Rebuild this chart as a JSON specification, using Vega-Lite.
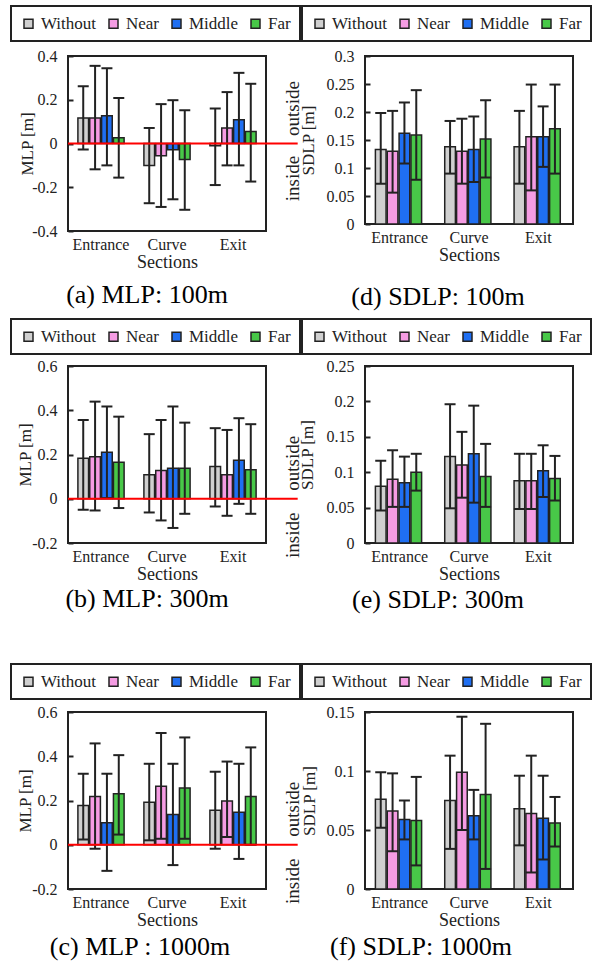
{
  "$schema": "https://vega.github.io/schema/vega-lite/v6.json",
  "background": "white",
  "padding": {"left": 9, "top": 4, "right": 3, "bottom": 3},
  "datasets": {
    "a": [
      {"section": "Entrance", "cond": "Without", "mean": 0.117, "lo": -0.027, "hi": 0.262},
      {"section": "Entrance", "cond": "Near", "mean": 0.117, "lo": -0.118, "hi": 0.355},
      {"section": "Entrance", "cond": "Middle", "mean": 0.127, "lo": -0.1, "hi": 0.344},
      {"section": "Entrance", "cond": "Far", "mean": 0.026, "lo": -0.156, "hi": 0.208},
      {"section": "Curve", "cond": "Without", "mean": -0.1, "lo": -0.273, "hi": 0.071},
      {"section": "Curve", "cond": "Near", "mean": -0.056, "lo": -0.29, "hi": 0.18},
      {"section": "Curve", "cond": "Middle", "mean": -0.029, "lo": -0.255, "hi": 0.198},
      {"section": "Curve", "cond": "Far", "mean": -0.073, "lo": -0.303, "hi": 0.152},
      {"section": "Exit", "cond": "Without", "mean": -0.01, "lo": -0.19, "hi": 0.16},
      {"section": "Exit", "cond": "Near", "mean": 0.071, "lo": -0.1, "hi": 0.235},
      {"section": "Exit", "cond": "Middle", "mean": 0.109, "lo": -0.1, "hi": 0.323},
      {"section": "Exit", "cond": "Far", "mean": 0.055, "lo": -0.174, "hi": 0.273}
    ],
    "b": [
      {"section": "Entrance", "cond": "Without", "mean": 0.183, "lo": -0.05, "hi": 0.356},
      {"section": "Entrance", "cond": "Near", "mean": 0.19, "lo": -0.053, "hi": 0.439},
      {"section": "Entrance", "cond": "Middle", "mean": 0.21, "lo": 0.003, "hi": 0.417},
      {"section": "Entrance", "cond": "Far", "mean": 0.165, "lo": -0.042, "hi": 0.371},
      {"section": "Curve", "cond": "Without", "mean": 0.108, "lo": -0.062, "hi": 0.292},
      {"section": "Curve", "cond": "Near", "mean": 0.128, "lo": -0.098, "hi": 0.356},
      {"section": "Curve", "cond": "Middle", "mean": 0.138, "lo": -0.132, "hi": 0.417},
      {"section": "Curve", "cond": "Far", "mean": 0.138, "lo": -0.068, "hi": 0.344},
      {"section": "Exit", "cond": "Without", "mean": 0.146, "lo": -0.035, "hi": 0.319},
      {"section": "Exit", "cond": "Near", "mean": 0.108, "lo": -0.077, "hi": 0.311},
      {"section": "Exit", "cond": "Middle", "mean": 0.174, "lo": -0.023, "hi": 0.364},
      {"section": "Exit", "cond": "Far", "mean": 0.131, "lo": -0.068, "hi": 0.337}
    ],
    "c": [
      {"section": "Entrance", "cond": "Without", "mean": 0.177, "lo": 0.024, "hi": 0.321},
      {"section": "Entrance", "cond": "Near", "mean": 0.218, "lo": -0.018, "hi": 0.458},
      {"section": "Entrance", "cond": "Middle", "mean": 0.1, "lo": -0.118, "hi": 0.321},
      {"section": "Entrance", "cond": "Far", "mean": 0.23, "lo": 0.046, "hi": 0.405},
      {"section": "Curve", "cond": "Without", "mean": 0.192, "lo": 0.02, "hi": 0.366},
      {"section": "Curve", "cond": "Near", "mean": 0.264, "lo": 0.027, "hi": 0.505},
      {"section": "Curve", "cond": "Middle", "mean": 0.137, "lo": -0.092, "hi": 0.366},
      {"section": "Curve", "cond": "Far", "mean": 0.256, "lo": 0.027, "hi": 0.485},
      {"section": "Exit", "cond": "Without", "mean": 0.156, "lo": -0.018, "hi": 0.33},
      {"section": "Exit", "cond": "Near", "mean": 0.198, "lo": 0.035, "hi": 0.376},
      {"section": "Exit", "cond": "Middle", "mean": 0.147, "lo": -0.064, "hi": 0.366},
      {"section": "Exit", "cond": "Far", "mean": 0.218, "lo": 0.0, "hi": 0.44}
    ],
    "d": [
      {"section": "Entrance", "cond": "Without", "mean": 0.133, "lo": 0.072, "hi": 0.198},
      {"section": "Entrance", "cond": "Near", "mean": 0.13, "lo": 0.056, "hi": 0.202},
      {"section": "Entrance", "cond": "Middle", "mean": 0.162, "lo": 0.108, "hi": 0.217},
      {"section": "Entrance", "cond": "Far", "mean": 0.159, "lo": 0.079, "hi": 0.239},
      {"section": "Curve", "cond": "Without", "mean": 0.138, "lo": 0.09, "hi": 0.184},
      {"section": "Curve", "cond": "Near", "mean": 0.13, "lo": 0.072, "hi": 0.188},
      {"section": "Curve", "cond": "Middle", "mean": 0.133, "lo": 0.075, "hi": 0.192},
      {"section": "Curve", "cond": "Far", "mean": 0.152, "lo": 0.083, "hi": 0.221},
      {"section": "Exit", "cond": "Without", "mean": 0.138, "lo": 0.072, "hi": 0.202},
      {"section": "Exit", "cond": "Near", "mean": 0.156, "lo": 0.06, "hi": 0.249},
      {"section": "Exit", "cond": "Middle", "mean": 0.156, "lo": 0.102, "hi": 0.21},
      {"section": "Exit", "cond": "Far", "mean": 0.17, "lo": 0.09, "hi": 0.249}
    ],
    "e": [
      {"section": "Entrance", "cond": "Without", "mean": 0.08, "lo": 0.046, "hi": 0.116},
      {"section": "Entrance", "cond": "Near", "mean": 0.09, "lo": 0.051, "hi": 0.131},
      {"section": "Entrance", "cond": "Middle", "mean": 0.085, "lo": 0.051, "hi": 0.122},
      {"section": "Entrance", "cond": "Far", "mean": 0.1, "lo": 0.074, "hi": 0.126},
      {"section": "Curve", "cond": "Without", "mean": 0.122, "lo": 0.049, "hi": 0.196},
      {"section": "Curve", "cond": "Near", "mean": 0.11, "lo": 0.064, "hi": 0.157},
      {"section": "Curve", "cond": "Middle", "mean": 0.126, "lo": 0.057, "hi": 0.194},
      {"section": "Curve", "cond": "Far", "mean": 0.094, "lo": 0.051, "hi": 0.14},
      {"section": "Exit", "cond": "Without", "mean": 0.088, "lo": 0.048, "hi": 0.126},
      {"section": "Exit", "cond": "Near", "mean": 0.088, "lo": 0.048, "hi": 0.126},
      {"section": "Exit", "cond": "Middle", "mean": 0.102, "lo": 0.065, "hi": 0.138},
      {"section": "Exit", "cond": "Far", "mean": 0.091, "lo": 0.06, "hi": 0.123}
    ],
    "f": [
      {"section": "Entrance", "cond": "Without", "mean": 0.076, "lo": 0.052, "hi": 0.099},
      {"section": "Entrance", "cond": "Near", "mean": 0.066, "lo": 0.032, "hi": 0.098},
      {"section": "Entrance", "cond": "Middle", "mean": 0.059, "lo": 0.042, "hi": 0.075},
      {"section": "Entrance", "cond": "Far", "mean": 0.058, "lo": 0.02, "hi": 0.095},
      {"section": "Curve", "cond": "Without", "mean": 0.075, "lo": 0.034, "hi": 0.113},
      {"section": "Curve", "cond": "Near", "mean": 0.099, "lo": 0.05, "hi": 0.146},
      {"section": "Curve", "cond": "Middle", "mean": 0.062, "lo": 0.042, "hi": 0.084},
      {"section": "Curve", "cond": "Far", "mean": 0.08, "lo": 0.017, "hi": 0.14},
      {"section": "Exit", "cond": "Without", "mean": 0.068, "lo": 0.037, "hi": 0.096},
      {"section": "Exit", "cond": "Near", "mean": 0.064, "lo": 0.014, "hi": 0.113},
      {"section": "Exit", "cond": "Middle", "mean": 0.06, "lo": 0.025, "hi": 0.096},
      {"section": "Exit", "cond": "Far", "mean": 0.056, "lo": 0.036, "hi": 0.078}
    ],
    "gap": [{"g": 0}],
    "one": [{"k": 0}]
  },
  "columns": 2,
  "spacing": {"row": 0, "column": 99},
  "align": "each",
  "bounds": "flush",
  "resolve": {"scale": {"fill": "independent"}, "legend": {"fill": "independent"}},
  "concat": [
    {
      "data": {"name": "a"}, "width": 198, "height": 175,
      "title": {"text": "(a) MLP: 100m", "dx": -20, "offset": 11},
      "layer": [
        {
          "encoding": {
            "x": {"field": "section", "type": "nominal", "sort": ["Entrance", "Curve", "Exit"], "scale": {"paddingInner": 0.3, "paddingOuter": 0.15}, "axis": {"title": "Sections"}},
            "xOffset": {"field": "cond", "type": "nominal", "sort": ["Without", "Near", "Middle", "Far"], "scale": {"paddingInner": 0.1, "paddingOuter": 0}}
          },
          "layer": [
            {"mark": "bar", "encoding": {
              "y": {"field": "mean", "type": "quantitative", "scale": {"domain": [-0.4, 0.4], "nice": false}, "axis": {"title": "MLP [m]", "values": [-0.4, -0.2, 0, 0.2, 0.4], "labelExpr": "'' + datum.value", "titlePadding": -5}},
              "fill": {"field": "cond", "type": "nominal", "scale": {"domain": ["Without", "Near", "Middle", "Far"], "range": ["#d0d0d0", "#f59ce3", "#1f6ff2", "#48c848"]}, "legend": {"title": null, "legendX": -57, "legendY": -50}}
            }},
            {"mark": {"type": "rule", "strokeWidth": 2, "color": "#222"}, "encoding": {"y": {"field": "lo", "type": "quantitative", "axis": {"title": "MLP [m]", "values": [-0.4, -0.2, 0, 0.2, 0.4], "labelExpr": "'' + datum.value", "titlePadding": -5}}, "y2": {"field": "hi"}}},
            {"mark": {"type": "tick", "size": 11, "thickness": 2, "color": "#222", "opacity": 1}, "encoding": {"y": {"field": "hi", "type": "quantitative", "axis": {"title": "MLP [m]", "values": [-0.4, -0.2, 0, 0.2, 0.4], "labelExpr": "'' + datum.value", "titlePadding": -5}}}},
            {"mark": {"type": "tick", "size": 11, "thickness": 2, "color": "#222", "opacity": 1}, "encoding": {"y": {"field": "lo", "type": "quantitative", "axis": {"title": "MLP [m]", "values": [-0.4, -0.2, 0, 0.2, 0.4], "labelExpr": "'' + datum.value", "titlePadding": -5}}}}
          ]
        },
        {"data": {"name": "one"}, "mark": {"type": "rule", "color": "red", "strokeWidth": 2}, "encoding": {"x": {"datum": 0, "type": "quantitative", "scale": {"domain": [0, 1]}, "axis": null}, "x2": {"datum": 1.16}, "y": {"datum": 0, "type": "quantitative"}}},
        {"data": {"name": "one"}, "mark": {"type": "text", "text": "outside", "angle": 270, "font": "Liberation Serif", "fontSize": 19, "color": "#222"}, "encoding": {"x": {"datum": 1.136, "type": "quantitative", "scale": {"domain": [0, 1]}, "axis": null}, "y": {"datum": 0.16, "type": "quantitative"}}},
        {"data": {"name": "one"}, "mark": {"type": "text", "text": "inside", "angle": 270, "font": "Liberation Serif", "fontSize": 19, "color": "#222"}, "encoding": {"x": {"datum": 1.136, "type": "quantitative", "scale": {"domain": [0, 1]}, "axis": null}, "y": {"datum": -0.16, "type": "quantitative"}}}
      ],
      "resolve": {"scale": {"x": "independent"}}
    },
    {
      "data": {"name": "d"}, "width": 208, "height": 168,
      "title": {"text": "(d) SDLP: 100m", "dx": -31, "offset": 20},
      "encoding": {
        "x": {"field": "section", "type": "nominal", "sort": ["Entrance", "Curve", "Exit"], "scale": {"paddingInner": 0.3, "paddingOuter": 0.15}, "axis": {"title": "Sections"}},
        "xOffset": {"field": "cond", "type": "nominal", "sort": ["Without", "Near", "Middle", "Far"], "scale": {"paddingInner": 0.1, "paddingOuter": 0}}
      },
      "layer": [
        {"mark": "bar", "encoding": {
          "y": {"field": "mean", "type": "quantitative", "scale": {"domain": [0, 0.3], "nice": false}, "axis": {"title": "SDLP [m]", "values": [0, 0.05, 0.1, 0.15, 0.2, 0.25, 0.3], "labelExpr": "'' + datum.value", "titlePadding": 9}},
          "fill": {"field": "cond", "type": "nominal", "scale": {"domain": ["Without", "Near", "Middle", "Far"], "range": ["#d0d0d0", "#f59ce3", "#1f6ff2", "#48c848"]}, "legend": {"title": null, "legendX": -63, "legendY": -50}}
        }},
        {"mark": {"type": "rule", "strokeWidth": 2, "color": "#222"}, "encoding": {"y": {"field": "lo", "type": "quantitative", "axis": {"title": "SDLP [m]", "values": [0, 0.05, 0.1, 0.15, 0.2, 0.25, 0.3], "labelExpr": "'' + datum.value", "titlePadding": 9}}, "y2": {"field": "hi"}}},
        {"mark": {"type": "tick", "size": 11, "thickness": 2, "color": "#222", "opacity": 1}, "encoding": {"y": {"field": "hi", "type": "quantitative", "axis": {"title": "SDLP [m]", "values": [0, 0.05, 0.1, 0.15, 0.2, 0.25, 0.3], "labelExpr": "'' + datum.value", "titlePadding": 9}}}},
        {"mark": {"type": "tick", "size": 11, "thickness": 2, "color": "#222", "opacity": 1}, "encoding": {"y": {"field": "lo", "type": "quantitative", "axis": {"title": "SDLP [m]", "values": [0, 0.05, 0.1, 0.15, 0.2, 0.25, 0.3], "labelExpr": "'' + datum.value", "titlePadding": 9}}}}
      ]
    },
    {"data": {"name": "gap"}, "width": 1, "height": 135, "mark": {"type": "point", "opacity": 0}, "encoding": {}, "view": {"stroke": null}},
    {"data": {"name": "gap"}, "width": 1, "height": 135, "mark": {"type": "point", "opacity": 0}, "encoding": {}, "view": {"stroke": null}},
    {
      "data": {"name": "b"}, "width": 198, "height": 177,
      "title": {"text": "(b) MLP: 300m", "dx": -20, "offset": 3},
      "layer": [
        {
          "encoding": {
            "x": {"field": "section", "type": "nominal", "sort": ["Entrance", "Curve", "Exit"], "scale": {"paddingInner": 0.3, "paddingOuter": 0.15}, "axis": {"title": "Sections"}},
            "xOffset": {"field": "cond", "type": "nominal", "sort": ["Without", "Near", "Middle", "Far"], "scale": {"paddingInner": 0.1, "paddingOuter": 0}}
          },
          "layer": [
            {"mark": "bar", "encoding": {
              "y": {"field": "mean", "type": "quantitative", "scale": {"domain": [-0.2, 0.6], "nice": false}, "axis": {"title": "MLP [m]", "values": [-0.2, 0, 0.2, 0.4, 0.6], "labelExpr": "'' + datum.value", "titlePadding": -3}},
              "fill": {"field": "cond", "type": "nominal", "scale": {"domain": ["Without", "Near", "Middle", "Far"], "range": ["#d0d0d0", "#f59ce3", "#1f6ff2", "#48c848"]}, "legend": {"title": null, "legendX": -57, "legendY": -47}}
            }},
            {"mark": {"type": "rule", "strokeWidth": 2, "color": "#222"}, "encoding": {"y": {"field": "lo", "type": "quantitative", "axis": {"title": "MLP [m]", "values": [-0.2, 0, 0.2, 0.4, 0.6], "labelExpr": "'' + datum.value", "titlePadding": -3}}, "y2": {"field": "hi"}}},
            {"mark": {"type": "tick", "size": 11, "thickness": 2, "color": "#222", "opacity": 1}, "encoding": {"y": {"field": "hi", "type": "quantitative", "axis": {"title": "MLP [m]", "values": [-0.2, 0, 0.2, 0.4, 0.6], "labelExpr": "'' + datum.value", "titlePadding": -3}}}},
            {"mark": {"type": "tick", "size": 11, "thickness": 2, "color": "#222", "opacity": 1}, "encoding": {"y": {"field": "lo", "type": "quantitative", "axis": {"title": "MLP [m]", "values": [-0.2, 0, 0.2, 0.4, 0.6], "labelExpr": "'' + datum.value", "titlePadding": -3}}}}
          ]
        },
        {"data": {"name": "one"}, "mark": {"type": "rule", "color": "red", "strokeWidth": 2}, "encoding": {"x": {"datum": 0, "type": "quantitative", "scale": {"domain": [0, 1]}, "axis": null}, "x2": {"datum": 1.16}, "y": {"datum": 0, "type": "quantitative"}}},
        {"data": {"name": "one"}, "mark": {"type": "text", "text": "outside", "angle": 270, "font": "Liberation Serif", "fontSize": 19, "color": "#222"}, "encoding": {"x": {"datum": 1.136, "type": "quantitative", "scale": {"domain": [0, 1]}, "axis": null}, "y": {"datum": 0.16, "type": "quantitative"}}},
        {"data": {"name": "one"}, "mark": {"type": "text", "text": "inside", "angle": 270, "font": "Liberation Serif", "fontSize": 19, "color": "#222"}, "encoding": {"x": {"datum": 1.136, "type": "quantitative", "scale": {"domain": [0, 1]}, "axis": null}, "y": {"datum": -0.165, "type": "quantitative"}}}
      ],
      "resolve": {"scale": {"x": "independent"}}
    },
    {
      "data": {"name": "e"}, "width": 208, "height": 177,
      "title": {"text": "(e) SDLP: 300m", "dx": -31, "offset": 4},
      "encoding": {
        "x": {"field": "section", "type": "nominal", "sort": ["Entrance", "Curve", "Exit"], "scale": {"paddingInner": 0.3, "paddingOuter": 0.15}, "axis": {"title": "Sections"}},
        "xOffset": {"field": "cond", "type": "nominal", "sort": ["Without", "Near", "Middle", "Far"], "scale": {"paddingInner": 0.1, "paddingOuter": 0}}
      },
      "layer": [
        {"mark": "bar", "encoding": {
          "y": {"field": "mean", "type": "quantitative", "scale": {"domain": [0, 0.25], "nice": false}, "axis": {"title": "SDLP [m]", "values": [0, 0.05, 0.1, 0.15, 0.2, 0.25], "tickCount": 6, "labelExpr": "'' + datum.value", "titlePadding": 10}},
          "fill": {"field": "cond", "type": "nominal", "scale": {"domain": ["Without", "Near", "Middle", "Far"], "range": ["#d0d0d0", "#f59ce3", "#1f6ff2", "#48c848"]}, "legend": {"title": null, "legendX": -63, "legendY": -47}}
        }},
        {"mark": {"type": "rule", "strokeWidth": 2, "color": "#222"}, "encoding": {"y": {"field": "lo", "type": "quantitative", "axis": {"title": "SDLP [m]", "values": [0, 0.05, 0.1, 0.15, 0.2, 0.25], "tickCount": 6, "labelExpr": "'' + datum.value", "titlePadding": 10}}, "y2": {"field": "hi"}}},
        {"mark": {"type": "tick", "size": 11, "thickness": 2, "color": "#222", "opacity": 1}, "encoding": {"y": {"field": "hi", "type": "quantitative", "axis": {"title": "SDLP [m]", "values": [0, 0.05, 0.1, 0.15, 0.2, 0.25], "tickCount": 6, "labelExpr": "'' + datum.value", "titlePadding": 10}}}},
        {"mark": {"type": "tick", "size": 11, "thickness": 2, "color": "#222", "opacity": 1}, "encoding": {"y": {"field": "lo", "type": "quantitative", "axis": {"title": "SDLP [m]", "values": [0, 0.05, 0.1, 0.15, 0.2, 0.25], "tickCount": 6, "labelExpr": "'' + datum.value", "titlePadding": 10}}}}
      ]
    },
    {"data": {"name": "gap"}, "width": 1, "height": 169, "mark": {"type": "point", "opacity": 0}, "encoding": {}, "view": {"stroke": null}},
    {"data": {"name": "gap"}, "width": 1, "height": 169, "mark": {"type": "point", "opacity": 0}, "encoding": {}, "view": {"stroke": null}},
    {
      "data": {"name": "c"}, "width": 198, "height": 177,
      "title": {"text": "(c) MLP : 1000m", "dx": -27, "offset": 5},
      "layer": [
        {
          "encoding": {
            "x": {"field": "section", "type": "nominal", "sort": ["Entrance", "Curve", "Exit"], "scale": {"paddingInner": 0.3, "paddingOuter": 0.15}, "axis": {"title": "Sections"}},
            "xOffset": {"field": "cond", "type": "nominal", "sort": ["Without", "Near", "Middle", "Far"], "scale": {"paddingInner": 0.1, "paddingOuter": 0}}
          },
          "layer": [
            {"mark": "bar", "encoding": {
              "y": {"field": "mean", "type": "quantitative", "scale": {"domain": [-0.2, 0.6], "nice": false}, "axis": {"title": "MLP [m]", "values": [-0.2, 0, 0.2, 0.4, 0.6], "labelExpr": "'' + datum.value", "titlePadding": -3}},
              "fill": {"field": "cond", "type": "nominal", "scale": {"domain": ["Without", "Near", "Middle", "Far"], "range": ["#d0d0d0", "#f59ce3", "#1f6ff2", "#48c848"]}, "legend": {"title": null, "legendX": -57, "legendY": -48}}
            }},
            {"mark": {"type": "rule", "strokeWidth": 2, "color": "#222"}, "encoding": {"y": {"field": "lo", "type": "quantitative", "axis": {"title": "MLP [m]", "values": [-0.2, 0, 0.2, 0.4, 0.6], "labelExpr": "'' + datum.value", "titlePadding": -3}}, "y2": {"field": "hi"}}},
            {"mark": {"type": "tick", "size": 11, "thickness": 2, "color": "#222", "opacity": 1}, "encoding": {"y": {"field": "hi", "type": "quantitative", "axis": {"title": "MLP [m]", "values": [-0.2, 0, 0.2, 0.4, 0.6], "labelExpr": "'' + datum.value", "titlePadding": -3}}}},
            {"mark": {"type": "tick", "size": 11, "thickness": 2, "color": "#222", "opacity": 1}, "encoding": {"y": {"field": "lo", "type": "quantitative", "axis": {"title": "MLP [m]", "values": [-0.2, 0, 0.2, 0.4, 0.6], "labelExpr": "'' + datum.value", "titlePadding": -3}}}}
          ]
        },
        {"data": {"name": "one"}, "mark": {"type": "rule", "color": "red", "strokeWidth": 2}, "encoding": {"x": {"datum": 0, "type": "quantitative", "scale": {"domain": [0, 1]}, "axis": null}, "x2": {"datum": 1.16}, "y": {"datum": 0, "type": "quantitative"}}},
        {"data": {"name": "one"}, "mark": {"type": "text", "text": "outside", "angle": 270, "font": "Liberation Serif", "fontSize": 19, "color": "#222"}, "encoding": {"x": {"datum": 1.136, "type": "quantitative", "scale": {"domain": [0, 1]}, "axis": null}, "y": {"datum": 0.16, "type": "quantitative"}}},
        {"data": {"name": "one"}, "mark": {"type": "text", "text": "inside", "angle": 270, "font": "Liberation Serif", "fontSize": 19, "color": "#222"}, "encoding": {"x": {"datum": 1.136, "type": "quantitative", "scale": {"domain": [0, 1]}, "axis": null}, "y": {"datum": -0.165, "type": "quantitative"}}}
      ],
      "resolve": {"scale": {"x": "independent"}}
    },
    {
      "data": {"name": "f"}, "width": 208, "height": 177,
      "title": {"text": "(f) SDLP: 1000m", "dx": -48, "offset": 5},
      "encoding": {
        "x": {"field": "section", "type": "nominal", "sort": ["Entrance", "Curve", "Exit"], "scale": {"paddingInner": 0.3, "paddingOuter": 0.15}, "axis": {"title": "Sections"}},
        "xOffset": {"field": "cond", "type": "nominal", "sort": ["Without", "Near", "Middle", "Far"], "scale": {"paddingInner": 0.1, "paddingOuter": 0}}
      },
      "layer": [
        {"mark": "bar", "encoding": {
          "y": {"field": "mean", "type": "quantitative", "scale": {"domain": [0, 0.15], "nice": false}, "axis": {"title": "SDLP [m]", "values": [0, 0.05, 0.1, 0.15], "labelExpr": "'' + datum.value", "titlePadding": 8}},
          "fill": {"field": "cond", "type": "nominal", "scale": {"domain": ["Without", "Near", "Middle", "Far"], "range": ["#d0d0d0", "#f59ce3", "#1f6ff2", "#48c848"]}, "legend": {"title": null, "legendX": -63, "legendY": -48}}
        }},
        {"mark": {"type": "rule", "strokeWidth": 2, "color": "#222"}, "encoding": {"y": {"field": "lo", "type": "quantitative", "axis": {"title": "SDLP [m]", "values": [0, 0.05, 0.1, 0.15], "labelExpr": "'' + datum.value", "titlePadding": 8}}, "y2": {"field": "hi"}}},
        {"mark": {"type": "tick", "size": 11, "thickness": 2, "color": "#222", "opacity": 1}, "encoding": {"y": {"field": "hi", "type": "quantitative", "axis": {"title": "SDLP [m]", "values": [0, 0.05, 0.1, 0.15], "labelExpr": "'' + datum.value", "titlePadding": 8}}}},
        {"mark": {"type": "tick", "size": 11, "thickness": 2, "color": "#222", "opacity": 1}, "encoding": {"y": {"field": "lo", "type": "quantitative", "axis": {"title": "SDLP [m]", "values": [0, 0.05, 0.1, 0.15], "labelExpr": "'' + datum.value", "titlePadding": 8}}}}
      ]
    }
  ],
  "config": {
    "font": "Liberation Serif",
    "view": {"stroke": "#222", "strokeWidth": 2},
    "bar": {"stroke": "#222", "strokeWidth": 1.5},
    "text": {"font": "Liberation Serif"},
    "axis": {"labelFont": "Liberation Serif", "titleFont": "Liberation Serif", "labelOverlap": false},
    "axisX": {"labelFont": "Liberation Serif", "titleFont": "Liberation Serif", "labelFontSize": 16, "labelColor": "#222", "labelAngle": 0, "labelPadding": 5, "ticks": false, "domain": false, "grid": false, "titleFontSize": 18, "titleFontWeight": "normal", "titleColor": "#222", "titlePadding": 1},
    "axisY": {"labelFont": "Liberation Serif", "titleFont": "Liberation Serif", "labelFontSize": 16, "labelColor": "#222", "tickSize": -5, "tickColor": "#222", "tickWidth": 2, "domain": false, "grid": false, "labelPadding": 16, "labelOverlap": false, "titleFontSize": 17, "titleFontWeight": "normal", "titleColor": "#222"},
    "legend": {"orient": "none", "direction": "horizontal", "labelFont": "Liberation Serif", "strokeColor": "#222", "strokeWidth": 2, "padding": 9, "labelFontSize": 17, "labelColor": "#222", "symbolType": "square", "symbolSize": 81, "symbolStrokeColor": "#222", "symbolStrokeWidth": 1.5, "symbolOpacity": 1, "columnPadding": 8, "labelOffset": 4},
    "title": {"font": "Liberation Serif", "fontSize": 26, "fontWeight": "normal", "color": "black", "orient": "bottom", "frame": "group", "anchor": "middle"}
  }
}
